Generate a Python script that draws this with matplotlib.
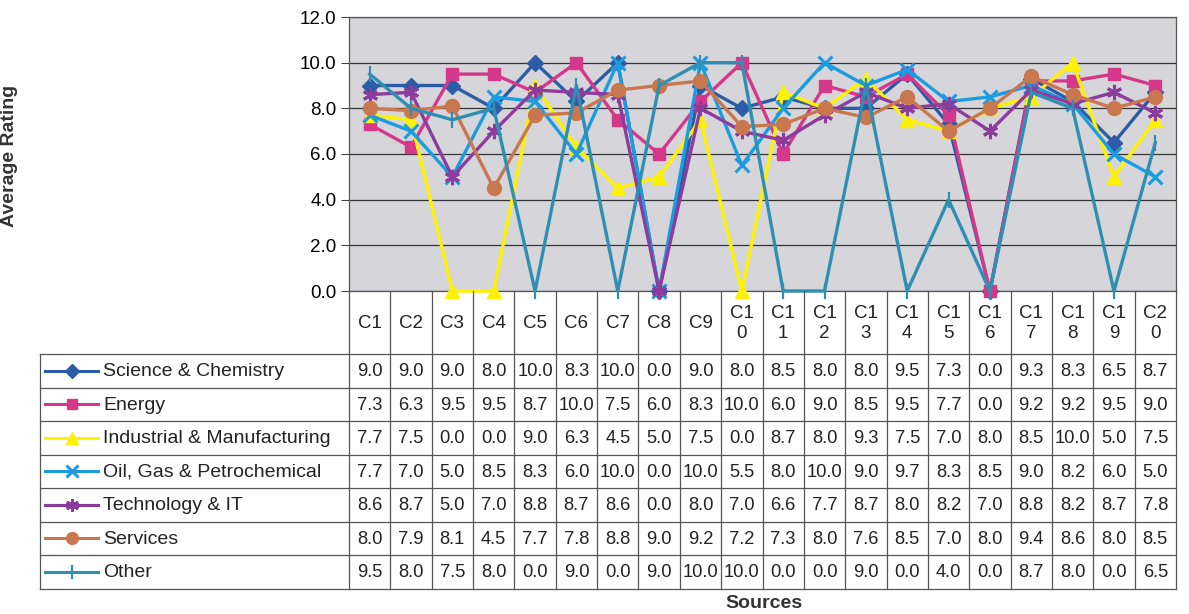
import matplotlib
matplotlib.use('Agg')
import matplotlib.pyplot as plt
from matplotlib.lines import Line2D

plt.rcParams['font.family'] = ['Liberation Sans', 'DejaVu Sans']

sources = ['C1', 'C2', 'C3', 'C4', 'C5', 'C6', 'C7', 'C8', 'C9', 'C10',
           'C11', 'C12', 'C13', 'C14', 'C15', 'C16', 'C17', 'C18', 'C19', 'C20']
# header labels wrap inside the narrow cells
header_labels = [s if len(s) == 2 else s[:2] + '\n' + s[2:] for s in sources]

sectors = ['Science & Chemistry', 'Energy', 'Industrial & Manufacturing',
           'Oil, Gas & Petrochemical', 'Technology & IT', 'Services', 'Other']

science = [9.0, 9.0, 9.0, 8.0, 10.0, 8.3, 10.0, 0.0, 9.0, 8.0,
           8.5, 8.0, 8.0, 9.5, 7.3, 0.0, 9.3, 8.3, 6.5, 8.7]
energy = [7.3, 6.3, 9.5, 9.5, 8.7, 10.0, 7.5, 6.0, 8.3, 10.0,
          6.0, 9.0, 8.5, 9.5, 7.7, 0.0, 9.2, 9.2, 9.5, 9.0]
industrial = [7.7, 7.5, 0.0, 0.0, 9.0, 6.3, 4.5, 5.0, 7.5, 0.0,
              8.7, 8.0, 9.3, 7.5, 7.0, 8.0, 8.5, 10.0, 5.0, 7.5]
oil_gas = [7.7, 7.0, 5.0, 8.5, 8.3, 6.0, 10.0, 0.0, 10.0, 5.5,
           8.0, 10.0, 9.0, 9.7, 8.3, 8.5, 9.0, 8.2, 6.0, 5.0]
technology = [8.6, 8.7, 5.0, 7.0, 8.8, 8.7, 8.6, 0.0, 8.0, 7.0,
              6.6, 7.7, 8.7, 8.0, 8.2, 7.0, 8.8, 8.2, 8.7, 7.8]
services = [8.0, 7.9, 8.1, 4.5, 7.7, 7.8, 8.8, 9.0, 9.2, 7.2,
            7.3, 8.0, 7.6, 8.5, 7.0, 8.0, 9.4, 8.6, 8.0, 8.5]
other = [9.5, 8.0, 7.5, 8.0, 0.0, 9.0, 0.0, 9.0, 10.0, 10.0,
         0.0, 0.0, 9.0, 0.0, 4.0, 0.0, 8.7, 8.0, 0.0, 6.5]

series = [science, energy, industrial, oil_gas, technology, services, other]

styles = [
    dict(color='#2c5ca6', marker='D', ms=8),
    dict(color='#d5388a', marker='s', ms=9),
    dict(color='#fff200', marker='^', ms=10),
    dict(color='#1c9ce0', marker='x', ms=10, mew=2.2),
    dict(color='#8c3c9c', marker=(6, 2, 0), ms=11, mew=2.2),
    dict(color='#c9774e', marker='o', ms=10),
    dict(color='#2f8fb2', marker='|', ms=12, mew=1.6),
]

W, H = 1189, 614
fig = plt.figure(figsize=(W / 100, H / 100), dpi=100, facecolor='white')

# pixel geometry of the plot area and the data table
x0, x1 = 349, 1176
y_top, y_bot = 17, 291
tab_left = 40
row_top, row_h = 354, 33.5
n = len(sources)
colw = (x1 - x0) / n

ax = fig.add_axes([x0 / W, 1 - y_bot / H, (x1 - x0) / W, (y_bot - y_top) / H])
ax.set_facecolor('#d5d5da')
ax.set_xlim(-0.5, n - 0.5)
ax.set_ylim(0, 12)
ax.set_yticks([0, 2, 4, 6, 8, 10, 12])
ax.set_yticklabels([f'{v:.1f}' for v in [0, 2, 4, 6, 8, 10, 12]], fontsize=13.5)
ax.set_xticks([])
ax.tick_params(axis='y', direction='out', length=6, width=0.8, color='#444444', pad=3)
ax.grid(axis='y', color='#333333', linewidth=0.9)
ax.set_axisbelow(True)
for sp in ax.spines.values():
    sp.set_color('#555555')
    sp.set_linewidth(0.9)
ax.set_ylabel('Average Rating', fontsize=14, fontweight='bold', labelpad=0,
              color='#333333')
ax.yaxis.set_label_coords(-(x0 - 18) / (x1 - x0), (y_bot - 156) / (y_bot - y_top))

xs = list(range(n))
for vals, st in zip(series, styles):
    ax.plot(xs, vals, linewidth=2.4, clip_on=False, zorder=3,
            color=st['color'], marker=st['marker'], markersize=st['ms'],
            markeredgewidth=st.get('mew', 1), markeredgecolor=st['color'],
            markerfacecolor=st['color'])

# data table drawn on an overlay in pixel coordinates
tab = fig.add_axes([0, 0, 1, 1], facecolor='none')
tab.set_xlim(0, W)
tab.set_ylim(H, 0)
tab.axis('off')

lc = '#555555'
lw = 0.9
tab_bot = row_top + row_h * len(sectors)

# header row
for i in range(n + 1):
    xv = x0 + i * colw
    tab.plot([xv, xv], [y_bot, tab_bot], color=lc, lw=lw)
for i, lab in enumerate(header_labels):
    tab.text(x0 + (i + 0.5) * colw, (y_bot + row_top) / 2 + 1, lab,
             ha='center', va='center', fontsize=13.5, linespacing=1.3,
             color='#222222')

# sector rows
tab.plot([tab_left, tab_left], [row_top, tab_bot], color=lc, lw=lw)
for r in range(len(sectors) + 1):
    yv = row_top + r * row_h
    tab.plot([tab_left, x1], [yv, yv], color=lc, lw=lw)

for r, (name, vals, st) in enumerate(zip(sectors, series, styles)):
    yc = row_top + (r + 0.5) * row_h
    tab.add_line(Line2D([45, 98], [yc, yc], color=st['color'], lw=2.2))
    tab.plot([71.5], [yc], linestyle='none', marker=st['marker'],
             markersize=st['ms'] * 0.85, color=st['color'],
             markeredgewidth=st.get('mew', 1))
    tab.text(103, yc + 1, name, ha='left', va='center', fontsize=14,
             color='#222222')
    for i, v in enumerate(vals):
        tab.text(x0 + (i + 0.5) * colw, yc + 1, f'{v:.1f}',
                 ha='center', va='center', fontsize=13.2, color='#222222')

tab.text(764, 603, 'Sources', ha='center', va='center',
         fontsize=14, fontweight='bold', color='#333333')

fig.savefig('out.png', dpi=100, facecolor='white')
